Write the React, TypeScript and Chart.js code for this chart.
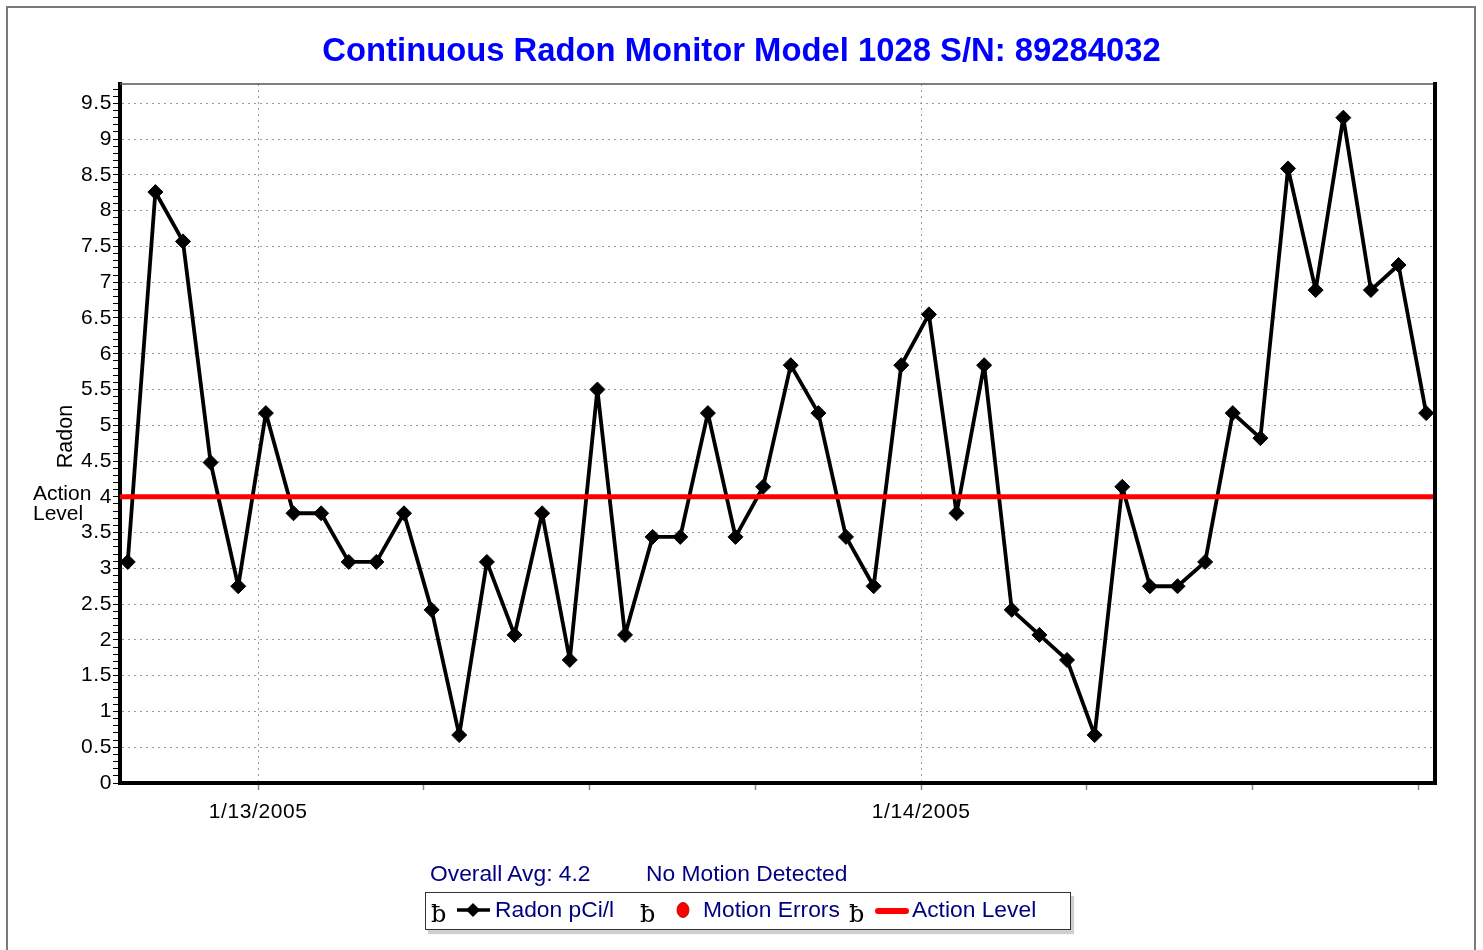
import React, { useEffect, useRef } from "react";
import { Chart, registerables } from "chart.js";

Chart.register(...registerables);

// ---------------- data ----------------
const chartTitle = "Continuous Radon Monitor Model 1028 S/N: 89284032";
const radonValues = [
  3.09, 8.26, 7.57, 4.48, 2.75, 5.17, 3.77, 3.77, 3.09, 3.09, 3.77, 2.42,
  0.67, 3.09, 2.07, 3.77, 1.72, 5.5, 2.07, 3.44, 3.44, 5.17, 3.44, 4.14,
  5.84, 5.17, 3.44, 2.75, 5.84, 6.55, 3.77, 5.84, 2.42, 2.07, 1.72, 0.67,
  4.14, 2.75, 2.75, 3.09, 5.17, 4.82, 8.59, 6.89, 9.3, 6.89, 7.24, 5.17,
];
// hours relative to 1/13/2005 00:00 (first sample 1/12/2005 ~19:17, hourly)
const firstSampleHour = -4.72;
const sampleIntervalHours = 1;
const actionLevel = 4;
const xMinHour = -5;
const xMaxHour = 42.6;
const xTickHours = [0, 6, 12, 18, 24, 30, 36, 42];
const xTickLabels = ["1/13/2005", "", "", "", "1/14/2005", "", "", ""];
const yMajorLabels = [
  "0", "0.5", "1", "1.5", "2", "2.5", "3", "3.5", "4", "4.5",
  "5", "5.5", "6", "6.5", "7", "7.5", "8", "8.5", "9", "9.5",
];
const yMax = 9.77;
const yMinorPerMajor = 5;
const yMinorCount = 97;
const overallAvgText = "Overall Avg: 4.2";
const motionText = "No Motion Detected";
const legendLabels = ["Radon pCi/l", "Motion Errors", "Action Level"];
const yAxisTitle = "Radon";
const actionLabelLines = ["Action", "Level"];

const SANS = "'Liberation Sans', Arial, sans-serif";
const NAVY = "#000080";

const frameLines = {
  id: "frameLines",
  beforeDraw(chart: any) {
    chart.ctx.letterSpacing = "0.6px";
  },
  afterDatasetsDraw(chart: any) {
    const { ctx, chartArea } = chart;
    const { left, right, top, bottom } = chartArea;
    ctx.save();
    ctx.strokeStyle = "#555";
    ctx.lineWidth = 1.5;
    ctx.beginPath();
    ctx.moveTo(left, top);
    ctx.lineTo(right, top);
    ctx.stroke();
    ctx.strokeStyle = "#000";
    ctx.lineWidth = 4;
    ctx.beginPath();
    ctx.moveTo(right, top - 2);
    ctx.lineTo(right, bottom + 2);
    ctx.stroke();
    ctx.restore();
  },
};

function ChartCanvas() {
  const ref = useRef<HTMLCanvasElement | null>(null);
  useEffect(() => {
    if (!ref.current) return;
    const radonPoints = radonValues.map((v, i) => ({
      x: firstSampleHour + i * sampleIntervalHours,
      y: v,
    }));
    const actionPoints = [
      { x: xMinHour, y: actionLevel },
      { x: xMaxHour, y: actionLevel },
    ];
    const yTicks: { value: number }[] = [];
    for (let k = 0; k <= yMinorCount; k++) yTicks.push({ value: k / 10 });

    const chart = new Chart(ref.current, {
      type: "line",
      data: {
        datasets: [
          {
            label: "Action Level",
            data: actionPoints,
            borderColor: "#ff0000",
            borderWidth: 5,
            pointRadius: 0,
            order: 0,
          },
          {
            label: "Radon pCi/l",
            data: radonPoints,
            borderColor: "#000",
            borderWidth: 3.8,
            borderJoinStyle: "round",
            pointStyle: "rectRot",
            pointRadius: 7.5,
            pointBackgroundColor: "#000",
            pointBorderColor: "#000",
            pointBorderWidth: 1,
            tension: 0,
            order: 1,
          },
        ],
      },
      options: {
        animation: false,
        responsive: false,
        events: [],
        layout: { padding: { left: 60, top: 84, right: 48, bottom: 107 } },
        plugins: {
          legend: { display: false },
          title: { display: false },
          tooltip: { enabled: false },
        },
        scales: {
          x: {
            type: "linear",
            min: xMinHour,
            max: xMaxHour,
            afterBuildTicks: (s: any) => {
              s.ticks = xTickHours.map((v) => ({ value: v }));
            },
            afterFit: (s: any) => {
              s.height = 60;
            },
            ticks: {
              autoSkip: false,
              maxRotation: 0,
              minRotation: 0,
              padding: 10,
              color: "#000",
              font: { family: SANS, size: 21 },
              callback: (v: any) => {
                const i = xTickHours.indexOf(Number(v));
                return i >= 0 ? xTickLabels[i] : "";
              },
            },
            grid: {
              color: (c: any) => {
                const i = xTickHours.indexOf(c.tick ? c.tick.value : NaN);
                return i >= 0 && xTickLabels[i] ? "#9a9a9a" : "rgba(0,0,0,0)";
              },
              tickColor: "#888",
              tickLength: 7,
              tickWidth: 1.5,
              lineWidth: 1,
            },
            border: { color: "#000", width: 4, dash: [2, 4] },
          },
          y: {
            type: "linear",
            min: 0,
            max: yMax,
            afterBuildTicks: (s: any) => {
              s.ticks = yTicks.map((t) => ({ value: t.value }));
            },
            afterFit: (s: any) => {
              s.width = 60;
            },
            ticks: {
              autoSkip: false,
              padding: 1,
              color: "#000",
              font: { family: SANS, size: 21 },
              callback: (v: any) => {
                const k = Math.round(Number(v) * 10);
                return k % yMinorPerMajor === 0 ? yMajorLabels[k / yMinorPerMajor] ?? "" : "";
              },
            },
            grid: {
              color: (c: any) => {
                const k = Math.round((c.tick ? c.tick.value : 0) * 10);
                return k % yMinorPerMajor === 0 && k > 0 ? "#9a9a9a" : "rgba(0,0,0,0)";
              },
              tickColor: "#000",
              tickLength: 7,
              tickWidth: 1,
              lineWidth: 1,
            },
            border: { color: "#000", width: 4, dash: [2, 4] },
          },
        },
      },
      plugins: [frameLines],
    } as any);
    return () => chart.destroy();
  }, []);
  return (
    <canvas
      ref={ref}
      width={1483}
      height={950}
      style={{ position: "absolute", left: 0, top: 0, width: 1483, height: 950, display: "block" }}
    />
  );
}

const glyphStyle = (left: number): React.CSSProperties => ({
  position: "absolute",
  left,
  top: 902,
  fontFamily: "'DejaVu Serif', 'Liberation Serif', serif",
  fontSize: 24,
  lineHeight: "24px",
  color: "#000",
});

const textStyle = (left: number, top: number): React.CSSProperties => ({
  position: "absolute",
  left,
  top,
  fontFamily: SANS,
  fontSize: 22.8,
  lineHeight: "22px",
  color: NAVY,
  whiteSpace: "nowrap",
});

export default function App() {
  return (
    <div
      style={{
        position: "absolute",
        left: 0,
        top: 0,
        width: 1483,
        height: 950,
        overflow: "hidden",
        background: "#fff",
      }}
    >
      <div
        style={{
          position: "absolute",
          left: 6,
          top: 6,
          width: 1466,
          height: 1000,
          border: "2px solid #7a7a7a",
        }}
      />
      <ChartCanvas />
      <div
        style={{
          position: "absolute",
          left: 0,
          top: 32.5,
          width: 1483,
          textAlign: "center",
          fontFamily: SANS,
          fontWeight: "bold",
          fontSize: 32.8,
          lineHeight: "33px",
          color: "#0000ff",
          whiteSpace: "nowrap",
        }}
      >
        {chartTitle}
      </div>
      <div
        style={{
          position: "absolute",
          left: 65 - 50,
          top: 436.5 - 10.5,
          width: 100,
          height: 21,
          textAlign: "center",
          fontFamily: SANS,
          fontSize: 21.5,
          lineHeight: "21px",
          color: "#000",
          transform: "rotate(-90deg)",
        }}
      >
        {yAxisTitle}
      </div>
      <div
        style={{
          position: "absolute",
          left: 33,
          top: 483,
          fontFamily: SANS,
          fontSize: 21,
          lineHeight: "20px",
          color: "#000",
          whiteSpace: "nowrap",
        }}
      >
        {actionLabelLines[0]}
        <br />
        {actionLabelLines[1]}
      </div>
      <div style={textStyle(430, 862)}>{overallAvgText}</div>
      <div style={textStyle(646, 862)}>{motionText}</div>
      <div
        style={{
          position: "absolute",
          left: 425,
          top: 892,
          width: 644,
          height: 36,
          border: "1px solid #333",
          boxShadow: "3px 4px 1px #d0d0d0",
          background: "#fff",
        }}
      />
      <div style={glyphStyle(431)}>ƀ</div>
      <svg style={{ position: "absolute", left: 457, top: 902 }} width={34} height={16}>
        <line x1={0} y1={8} x2={33} y2={8} stroke="#000" strokeWidth={3.5} />
        <polygon points="16,1 23,8 16,15 9,8" fill="#000" />
      </svg>
      <div style={textStyle(495, 898)}>{legendLabels[0]}</div>
      <div style={glyphStyle(640)}>ƀ</div>
      <svg style={{ position: "absolute", left: 675, top: 901 }} width={16} height={18}>
        <ellipse cx={8} cy={9} rx={6} ry={7.5} fill="#ff0000" stroke="#900" strokeWidth={0.8} />
      </svg>
      <div style={textStyle(703, 898)}>{legendLabels[1]}</div>
      <div style={glyphStyle(849)}>ƀ</div>
      <svg style={{ position: "absolute", left: 873, top: 903 }} width={38} height={16}>
        <line x1={5} y1={8} x2={33} y2={8} stroke="#ff0000" strokeWidth={6} strokeLinecap="round" />
      </svg>
      <div style={textStyle(912, 898)}>{legendLabels[2]}</div>
    </div>
  );
}
